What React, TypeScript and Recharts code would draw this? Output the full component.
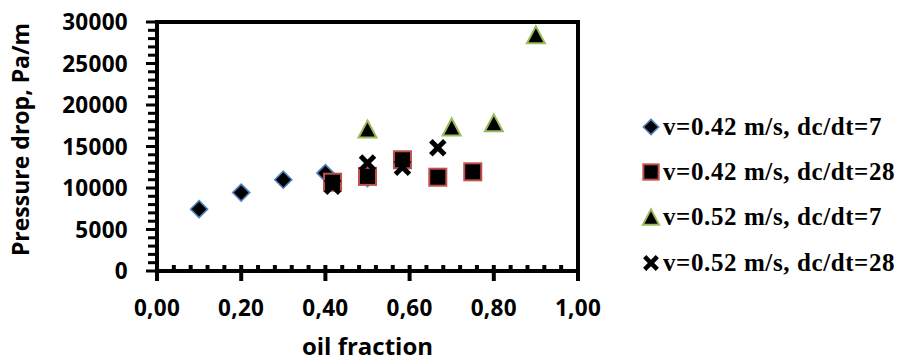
import React from "react";
import {
    ScatterChart,
    Scatter,
    XAxis,
    YAxis,
    ReferenceLine,
    Legend,
    Label,
} from "recharts";

// oil fraction / pressure drop readings per test series
const diamondX = [0.1, 0.2, 0.3, 0.4, 0.5];
const diamondY = [7450, 9450, 11000, 11800, 11200];

const squareX = [0.417, 0.5, 0.583, 0.667, 0.75];
const squareY = [10700, 11400, 13400, 11300, 11950];

const triangleX = [0.5, 0.7, 0.8, 0.9];
const triangleY = [17100, 17350, 17850, 28450];

const crossX = [0.417, 0.5, 0.583, 0.667];
const crossY = [10200, 13000, 12500, 14850];

const seriesNames = [
    "v=0.42 m/s, dc/dt=7",
    "v=0.42 m/s, dc/dt=28",
    "v=0.52 m/s, dc/dt=7",
    "v=0.52 m/s, dc/dt=28",
];

const xTicks = [0, 0.04, 0.08, 0.12, 0.16, 0.2, 0.24, 0.28, 0.32, 0.36, 0.4, 0.44, 0.48, 0.52, 0.56, 0.6, 0.64, 0.68, 0.72, 0.76, 0.8, 0.84, 0.88, 0.92, 0.96, 1];
const yTicks = [
    0, 1000, 2000, 3000, 4000, 5000, 6000, 7000, 8000, 9000, 10000,
    11000, 12000, 13000, 14000, 15000, 16000, 17000, 18000, 19000, 20000,
    21000, 22000, 23000, 24000, 25000, 26000, 27000, 28000, 29000, 30000,
];

const toPoints = (xs: number[], ys: number[]) => xs.map((x, i) => ({ x, y: ys[i] }));

const AXIS_FONT = "'Open Sans', sans-serif";
const BLUE = "#4F81BD";
const RED = "#C0504D";
const GREEN = "#9BBB59";

const Marker = ({ kind, cx, cy, s = 1 }: { kind: number; cx: number; cy: number; s?: number }) => {
    if (kind === 0) {
        const r = 8.5 * s;
        return <path d={`M${cx},${cy - r}L${cx + r},${cy}L${cx},${cy + r}L${cx - r},${cy}Z`} fill="#000" stroke={BLUE} strokeWidth={1.6} />;
    }
    if (kind === 1) {
        const h = 8.5 * s;
        return <rect x={cx - h} y={cy - h} width={2 * h} height={2 * h} fill="#000" stroke={RED} strokeWidth={2} />;
    }
    if (kind === 2) {
        const h = 8.5 * s;
        const w = 9 * s;
        return <path d={`M${cx},${cy - h}L${cx + w},${cy + h}L${cx - w},${cy + h}Z`} fill="#000" stroke={GREEN} strokeWidth={2} strokeLinejoin="miter" />;
    }
    const a = 7 * s;
    return (
        <g stroke="#000" strokeWidth={5 * s}>
            <line x1={cx - a} y1={cy - a} x2={cx + a} y2={cy + a} />
            <line x1={cx - a} y1={cy + a} x2={cx + a} y2={cy - a} />
        </g>
    );
};

const isMajor = (v: number, step: number) => Math.abs(v / step - Math.round(v / step)) < 1e-6;

const XTick = (props: any) => {
    const { x, y, payload } = props;
    const major = isMajor(payload.value, 0.2);
    return (
        <g>
            <line x1={x} x2={x} y1={y - 6} y2={major ? y + 10 : y} stroke="#000" strokeWidth={4} />
            {major && (
                <text x={x} y={y + 37} dy="0.36em" textAnchor="middle" fontFamily={AXIS_FONT} fontWeight={700} fontSize={22.5} letterSpacing={0.3} fill="#000">
                    {payload.value.toFixed(2).replace(".", ",")}
                </text>
            )}
        </g>
    );
};

const YTick = (props: any) => {
    const { x, y, payload } = props;
    const major = isMajor(payload.value, 5000);
    return (
        <g>
            <line x1={major ? x - 11 : x - 9} x2={x} y1={y} y2={y} stroke="#000" strokeWidth={3} />
            {major && (
                <text x={x - 29} y={y} dy="0.36em" textAnchor="end" fontFamily={AXIS_FONT} fontWeight={700} fontSize={22.5} letterSpacing={0.3} fill="#000">
                    {payload.value}
                </text>
            )}
        </g>
    );
};

const LegendBox = () => (
    <div style={{ fontFamily: "'Liberation Serif', 'Times New Roman', serif", fontWeight: 700, fontSize: 25, color: "#000" }}>
        {seriesNames.map((name, i) => (
            <div key={name} style={{ display: "flex", alignItems: "center", height: 45.3 }}>
                <svg width={22} height={22} style={{ flex: "none" }}>
                    <Marker kind={i} cx={11} cy={11} s={0.9} />
                </svg>
                <span style={{ letterSpacing: 0.6, whiteSpace: "nowrap", marginLeft: 1 }}>{name}</span>
            </div>
        ))}
    </div>
);

const App = () => {
    const series = [
        toPoints(diamondX, diamondY),
        toPoints(squareX, squareY),
        toPoints(triangleX, triangleY),
        toPoints(crossX, crossY),
    ];

    return (
        <div style={{ position: "absolute", left: 0, top: 0, width: 901, height: 361, background: "#fff" }}>
            <ScatterChart width={901} height={361} margin={{ top: 22, right: 323, bottom: 0, left: 0 }}>
                <XAxis
                    type="number"
                    dataKey="x"
                    domain={[0, 1]}
                    ticks={xTicks}
                    interval={0}
                    tick={XTick}
                    tickLine={false}
                    tickSize={0}
                    tickMargin={0}
                    height={90}
                    axisLine={{ stroke: "#000", strokeWidth: 4, strokeLinecap: "square" }}
                >
                    <Label
                        content={(p: any) => (
                            <text x={p.viewBox.x + p.viewBox.width / 2} y={p.viewBox.y + 84} textAnchor="middle" fontFamily={AXIS_FONT} fontWeight={700} fontSize={24} fill="#000">
                                oil fraction
                            </text>
                        )}
                    />
                </XAxis>
                <YAxis
                    type="number"
                    dataKey="y"
                    domain={[0, 30000]}
                    ticks={yTicks}
                    interval={0}
                    tick={YTick}
                    tickLine={false}
                    tickSize={0}
                    tickMargin={0}
                    width={157}
                    axisLine={{ stroke: "#000", strokeWidth: 4, strokeLinecap: "square" }}
                >
                    <Label
                        content={(p: any) => {
                            const cx = p.viewBox.x + 21;
                            const cy = p.viewBox.y + p.viewBox.height / 2 - 7;
                            return (
                                <text x={cx} y={cy} dy="0.36em" transform={`rotate(-90 ${cx} ${cy})`} textAnchor="middle" fontFamily={AXIS_FONT} fontWeight={700} fontSize={23} fill="#000">
                                    Pressure drop, Pa/m
                                </text>
                            );
                        }}
                    />
                </YAxis>
                <ReferenceLine y={30000} stroke="#000" strokeWidth={4} strokeLinecap="square" />
                <ReferenceLine x={1} stroke="#000" strokeWidth={4} strokeLinecap="square" />
                {series.map((pts, i) => (
                    <Scatter
                        key={seriesNames[i]}
                        name={seriesNames[i]}
                        data={pts}
                        isAnimationActive={false}
                        shape={(p: any) => <Marker kind={i} cx={p.cx} cy={p.cy} />}
                    />
                ))}
                <Legend
                    layout="vertical"
                    align="center"
                    verticalAlign="middle"
                    content={() => <LegendBox />}
                    wrapperStyle={{ left: 640, top: 104, width: 261 }}
                />
            </ScatterChart>
        </div>
    );
};

export default App;
